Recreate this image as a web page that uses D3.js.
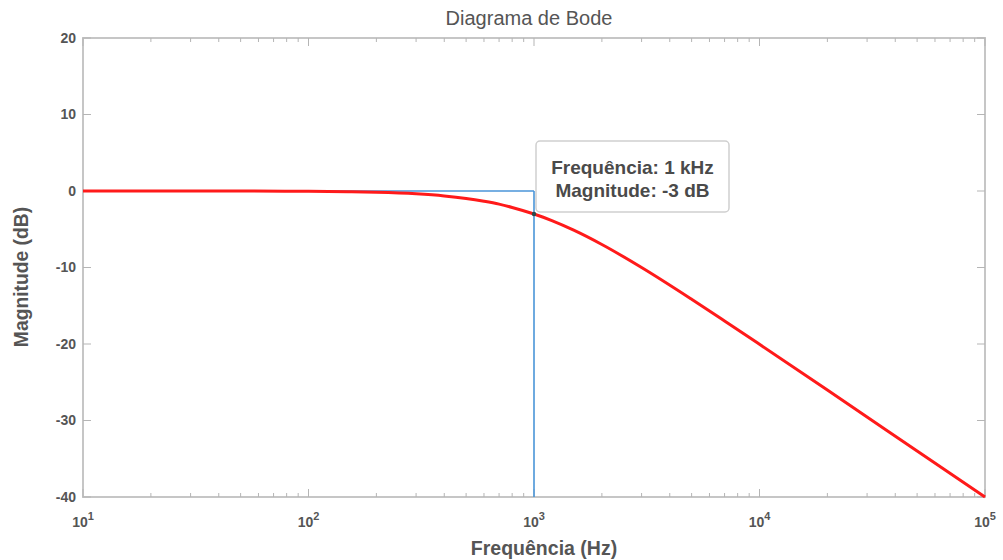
<!DOCTYPE html>
<html>
<head>
<meta charset="utf-8">
<script src="https://cdn.jsdelivr.net/npm/d3@7"></script>
<style>
  body { margin: 0; background: #fff; }
  svg { display: block; font-family: "Liberation Sans", Arial, sans-serif; }
</style>
</head>
<body>
<svg id="chart" width="1003" height="560"></svg>
<script>
// Magnitude response of the low-pass filter (frequency in Hz, magnitude in dB)
const freqs = [10, 20, 50, 100, 150, 200, 300, 400, 500, 600, 700, 800, 1000, 1200, 1500, 2000, 3000, 5000, 7000, 10000, 20000, 50000, 100000];
const magnitudes = [0, 0, -0.01, -0.04, -0.1, -0.17, -0.37, -0.64, -0.97, -1.34, -1.72, -2.15, -3.01, -3.87, -5.12, -6.99, -10.0, -14.15, -16.99, -20.04, -26.02, -33.98, -40.0];

// Cutoff marker
const cutoffFreq = 1000;
const cutoffMag = -3;
const refLevel = 0;

const yTicks = [20, 10, 0, -10, -20, -30, -40];
const xDecades = [10, 100, 1000, 10000, 100000];
const tipLines = ["Frequência: 1 kHz", "Magnitude: -3 dB"];

const svg = d3.select("#chart");
const m = { left: 83, right: 985, top: 38, bottom: 497 };

const x = d3.scaleLog().domain([10, 100000]).range([m.left, m.right]);
const y = d3.scaleLinear().domain([-40, 20]).range([m.bottom, m.top]);

const axisColor = "#c6c6c6";
const textColor = "#555";

// Minor log ticks
const minor = [];
for (let d = 10; d < 100000; d *= 10) {
  for (let k = 2; k <= 9; k++) minor.push(d * k);
}

const g = svg.append("g");

// Plot box
g.append("rect")
  .attr("x", m.left).attr("y", m.top)
  .attr("width", m.right - m.left).attr("height", m.bottom - m.top)
  .attr("fill", "none").attr("stroke", axisColor).attr("stroke-width", 2);

// Ticks (inward, on all sides)
const tickG = g.append("g").attr("stroke", "#b5b5b5").attr("stroke-width", 1);
xDecades.forEach(v => {
  tickG.append("line").attr("x1", x(v)).attr("x2", x(v)).attr("y1", m.bottom).attr("y2", m.bottom - 8);
  tickG.append("line").attr("x1", x(v)).attr("x2", x(v)).attr("y1", m.top).attr("y2", m.top + 8);
});
minor.forEach(v => {
  tickG.append("line").attr("x1", x(v)).attr("x2", x(v)).attr("y1", m.bottom).attr("y2", m.bottom - 4);
  tickG.append("line").attr("x1", x(v)).attr("x2", x(v)).attr("y1", m.top).attr("y2", m.top + 4);
});
yTicks.forEach(v => {
  tickG.append("line").attr("x1", m.left).attr("x2", m.left + 8).attr("y1", y(v)).attr("y2", y(v));
  tickG.append("line").attr("x1", m.right).attr("x2", m.right - 8).attr("y1", y(v)).attr("y2", y(v));
});

// Y tick labels
g.append("g").selectAll("text").data(yTicks).join("text")
  .attr("x", m.left - 7).attr("y", d => y(d)).attr("dy", "0.35em")
  .attr("text-anchor", "end").attr("fill", textColor)
  .attr("font-size", 14).attr("font-weight", "bold")
  .text(d => d);

// X tick labels as 10^n
const xl = g.append("g").selectAll("text").data(xDecades).join("text")
  .attr("x", d => x(d)).attr("y", m.bottom + 30)
  .attr("text-anchor", "middle").attr("fill", textColor)
  .attr("font-size", 14).attr("font-weight", "bold");
xl.append("tspan").text("10");
xl.append("tspan").attr("dy", -7).attr("font-size", 11).text(d => Math.round(Math.log10(d)));

// Reference lines through the cutoff point
const blue = "#4a95d8";
g.append("line")
  .attr("x1", x(10)).attr("x2", x(cutoffFreq))
  .attr("y1", y(refLevel)).attr("y2", y(refLevel))
  .attr("stroke", blue).attr("stroke-width", 1.6);
g.append("line")
  .attr("x1", x(cutoffFreq)).attr("x2", x(cutoffFreq))
  .attr("y1", y(refLevel)).attr("y2", y(-40))
  .attr("stroke", blue).attr("stroke-width", 1.6);

// Magnitude curve
const data = freqs.map((f, i) => [f, magnitudes[i]]);
const line = d3.line().x(d => x(d[0])).y(d => y(d[1])).curve(d3.curveMonotoneX);
g.append("path").datum(data).attr("d", line)
  .attr("fill", "none").attr("stroke", "#ff1a1a").attr("stroke-width", 3);

// Data point marker
g.append("circle").attr("cx", x(cutoffFreq)).attr("cy", y(cutoffMag)).attr("r", 2.2).attr("fill", "#2d4a4a");

// Data tip box
const bx = x(cutoffFreq) + 2, by = 141, bw = 193, bh = 71;
g.append("rect").attr("x", bx).attr("y", by).attr("width", bw).attr("height", bh)
  .attr("rx", 4).attr("fill", "#fff").attr("stroke", "#cfcfcf").attr("stroke-width", 1.5);
g.append("g").selectAll("text").data(tipLines).join("text")
  .attr("x", bx + bw / 2).attr("y", (d, i) => by + 33 + i * 23)
  .attr("text-anchor", "middle").attr("fill", "#4a4a4a")
  .attr("font-size", 19).attr("font-weight", "bold")
  .text(d => d);

// Title and axis labels
svg.append("text").attr("x", 529).attr("y", 25).attr("text-anchor", "middle")
  .attr("fill", textColor).attr("font-size", 20).text("Diagrama de Bode");
svg.append("text").attr("x", 544).attr("y", 555).attr("text-anchor", "middle")
  .attr("fill", textColor).attr("font-size", 19.5).attr("font-weight", "bold").text("Frequência (Hz)");
svg.append("text").attr("transform", "translate(28,277) rotate(-90)").attr("text-anchor", "middle")
  .attr("fill", textColor).attr("font-size", 19.3).attr("font-weight", "bold").text("Magnitude (dB)");
</script>
</body>
</html>
